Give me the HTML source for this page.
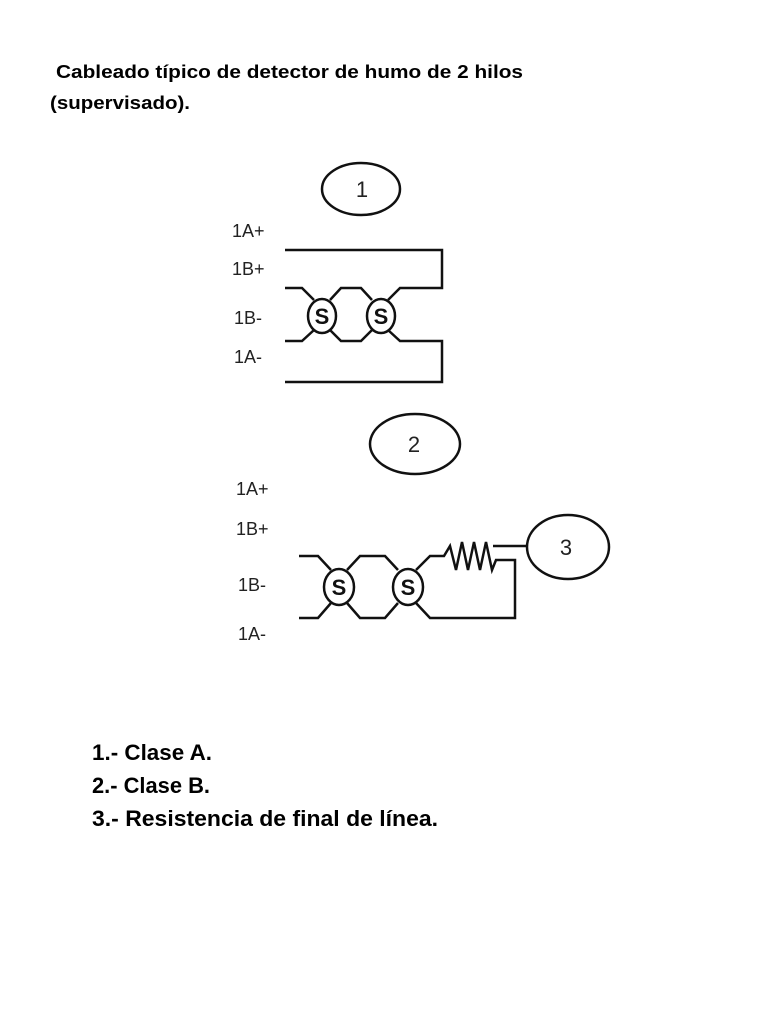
<!DOCTYPE html>
<html><head><meta charset="utf-8"><style>
html,body{margin:0;padding:0;background:#fff;width:768px;height:1024px;overflow:hidden}
</style></head><body>
<svg width="768" height="1024" viewBox="0 0 768 1024" xmlns="http://www.w3.org/2000/svg" font-family="Liberation Sans, sans-serif">
<g font-weight="bold" fill="#000">
<text x="56" y="78" font-size="18" textLength="467" lengthAdjust="spacingAndGlyphs">Cableado típico de detector de humo de 2 hilos</text>
<text x="50" y="109" font-size="18" textLength="140" lengthAdjust="spacingAndGlyphs">(supervisado).</text>
<text x="92" y="760" font-size="22" textLength="120" lengthAdjust="spacingAndGlyphs">1.- Clase A.</text>
<text x="92" y="793" font-size="22" textLength="118" lengthAdjust="spacingAndGlyphs">2.- Clase B.</text>
<text x="92" y="826" font-size="22" textLength="346" lengthAdjust="spacingAndGlyphs">3.- Resistencia de final de línea.</text>
</g>
<g font-size="18" fill="#222">
<text x="232" y="237">1A+</text>
<text x="232" y="275">1B+</text>
<text x="234" y="324">1B-</text>
<text x="234" y="363">1A-</text>
<text x="236" y="495">1A+</text>
<text x="236" y="535">1B+</text>
<text x="238" y="591">1B-</text>
<text x="238" y="640">1A-</text>
</g>
<g fill="none" stroke="#111" stroke-width="2.5">
<ellipse cx="361" cy="189" rx="39" ry="26"/>
<ellipse cx="415" cy="444" rx="45" ry="30"/>
<ellipse cx="568" cy="547" rx="41" ry="32"/>
<polyline points="285,250 442,250 442,288 400,288 388,300"/>
<polyline points="285,288 302,288 314,300"/>
<polyline points="330,300 341,288 361,288 372,300"/>
<polyline points="285,341 302,341 314,330"/>
<polyline points="330,330 341,341 361,341 372,330"/>
<polyline points="388,330 400,341 442,341 442,382 285,382"/>
<ellipse cx="322" cy="316" rx="14" ry="17"/>
<ellipse cx="381" cy="316" rx="14" ry="17"/>
<polyline points="299,556 318,556 331,570"/>
<polyline points="299,618 318,618 331,603"/>
<polyline points="347,570 360,556 385,556 398,570"/>
<polyline points="347,603 360,618 385,618 398,603"/>
<polyline points="416,570 430,556 444,556 450,546 456,570 462,542 468,570 474,542 480,570 486,542 492,570 496,560 515,560 515,618 430,618 416,603"/>
<line x1="493" y1="546" x2="527" y2="546"/>
<ellipse cx="339" cy="587" rx="15" ry="18"/>
<ellipse cx="408" cy="587" rx="15" ry="18"/>
</g>
<g font-size="22" fill="#222" text-anchor="middle">
<text x="362" y="197">1</text>
<text x="414" y="452">2</text>
<text x="566" y="555">3</text>
</g>
<g font-size="22" font-weight="bold" fill="#111" text-anchor="middle">
<text x="322" y="324">S</text>
<text x="381" y="324">S</text>
<text x="339" y="595">S</text>
<text x="408" y="595">S</text>
</g>
</svg>
</body></html>
